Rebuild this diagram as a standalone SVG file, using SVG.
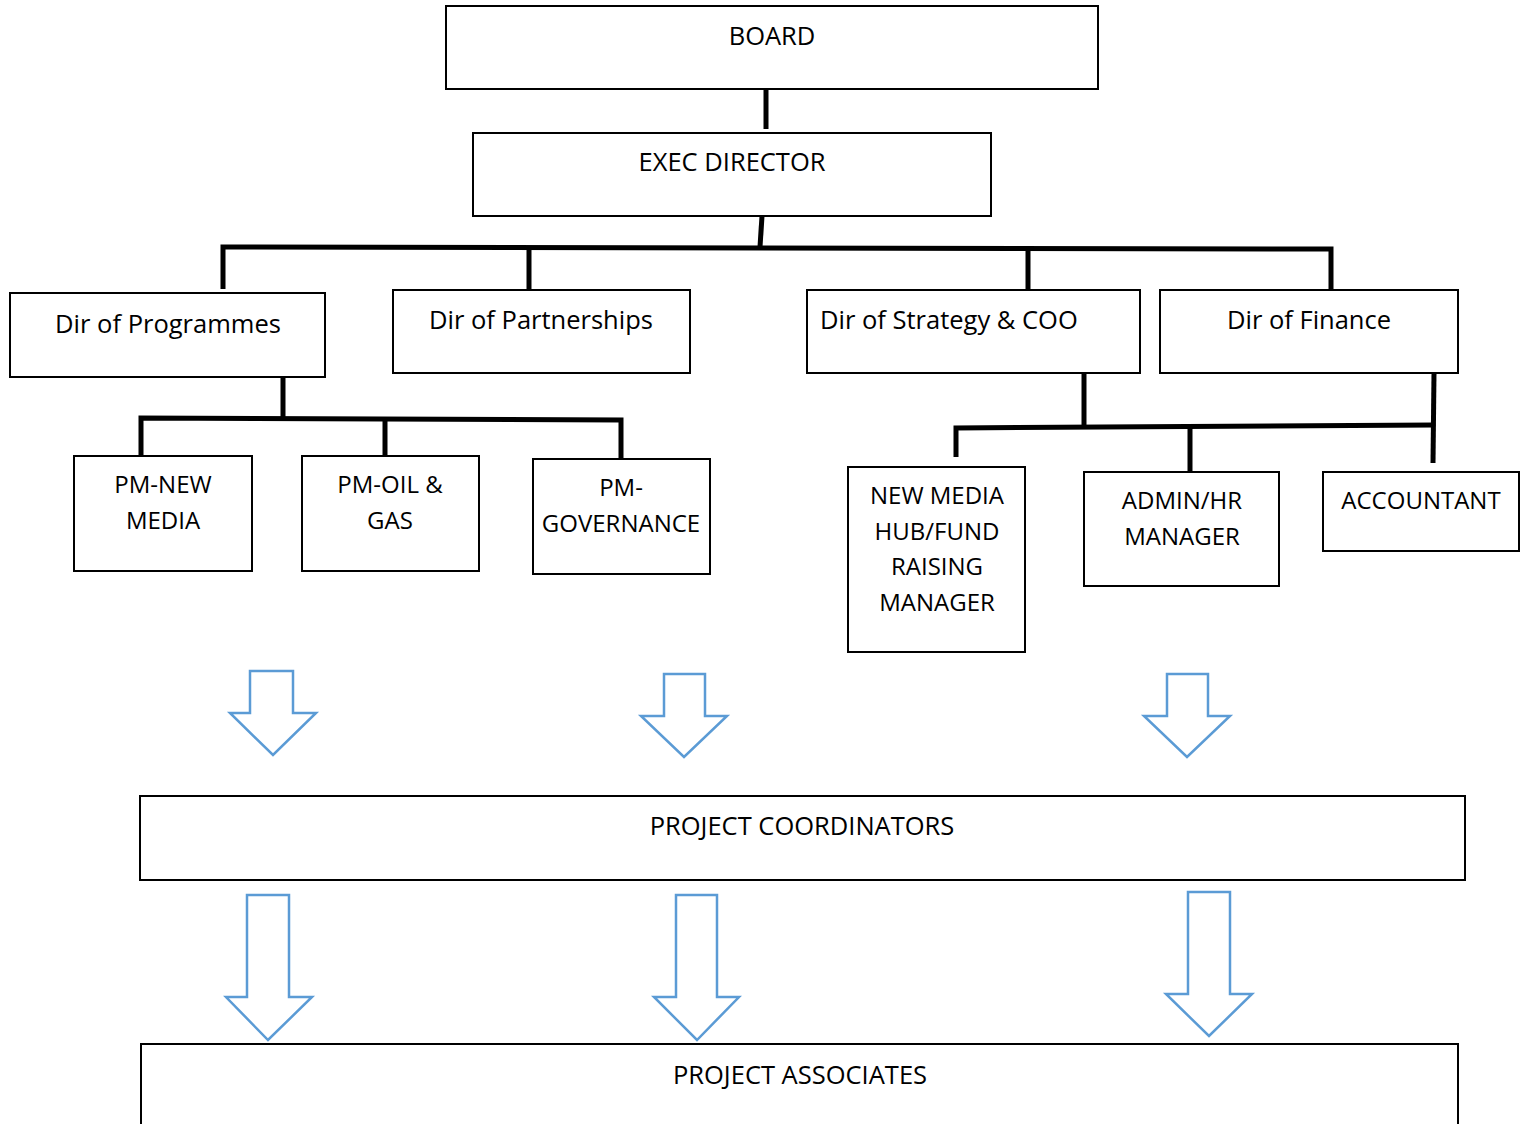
<svg xmlns="http://www.w3.org/2000/svg" width="1525" height="1124" viewBox="0 0 1525 1124">
<style>
.box{fill:#fff;stroke:#000;stroke-width:2}
.t{font-family:"Open Sans","Liberation Sans",sans-serif;font-size:24px;fill:#000}
.m{font-size:25.5px}
.c{text-anchor:middle}
.ln{stroke:#000;stroke-width:5;fill:none;stroke-linecap:butt}
.arr{fill:#fff;stroke:#5B9BD5;stroke-width:2.5;stroke-linejoin:miter}
</style>
<rect width="1525" height="1124" fill="#fff"/>
<g id="connectors">
<line class="ln" x1="766" y1="89" x2="766" y2="129"/>
<line class="ln" x1="762" y1="216" x2="760" y2="247"/>
<path class="ln" d="M223,289 V247 L1331,249 V289"/>
<line class="ln" x1="529" y1="247" x2="529" y2="290"/>
<line class="ln" x1="1028" y1="248" x2="1028" y2="290"/>
<line class="ln" x1="283" y1="374" x2="283" y2="418"/>
<path class="ln" d="M141,456 V418 L621,420 V459"/>
<line class="ln" x1="385" y1="418" x2="385" y2="456"/>
<line class="ln" x1="1084" y1="373" x2="1084" y2="427"/>
<path class="ln" d="M956,457 V428 L1434,425"/>
<line class="ln" x1="1190" y1="427" x2="1190" y2="471"/>
<line class="ln" x1="1434" y1="373" x2="1433" y2="463"/>
</g>
<g id="board"><rect class="box" x="446" y="6" width="652" height="83"/><text class="t m c" x="772" y="45">BOARD</text></g>
<g id="exec"><rect class="box" x="473" y="133" width="518" height="83"/><text class="t m c" x="732" y="171">EXEC DIRECTOR</text></g>
<g id="dir-programmes"><rect class="box" x="10" y="293" width="315" height="84"/><text class="t m c" x="168" y="333">Dir of Programmes</text></g>
<g id="dir-partnerships"><rect class="box" x="393" y="290" width="297" height="83"/><text class="t m c" x="541" y="329">Dir of Partnerships</text></g>
<g id="dir-strategy"><rect class="box" x="807" y="290" width="333" height="83"/><text class="t m" x="820" y="329">Dir of Strategy &amp; COO</text></g>
<g id="dir-finance"><rect class="box" x="1160" y="290" width="298" height="83"/><text class="t m c" x="1309" y="329">Dir of Finance</text></g>
<g id="pm-new-media"><rect class="box" x="74" y="456" width="178" height="115"/><text class="t c" x="163" y="493">PM-NEW</text><text class="t c" x="163" y="529">MEDIA</text></g>
<g id="pm-oil-gas"><rect class="box" x="302" y="456" width="177" height="115"/><text class="t c" x="390" y="493">PM-OIL &amp;</text><text class="t c" x="390" y="529">GAS</text></g>
<g id="pm-governance"><rect class="box" x="533" y="459" width="177" height="115"/><text class="t c" x="621" y="496">PM-</text><text class="t c" x="621" y="532">GOVERNANCE</text></g>
<g id="new-media-hub"><rect class="box" x="848" y="467" width="177" height="185"/><text class="t c" x="937" y="504">NEW MEDIA</text><text class="t c" x="937" y="540">HUB/FUND</text><text class="t c" x="937" y="575">RAISING</text><text class="t c" x="937" y="611">MANAGER</text></g>
<g id="admin-hr"><rect class="box" x="1084" y="472" width="195" height="114"/><text class="t c" x="1182" y="509">ADMIN/HR</text><text class="t c" x="1182" y="545">MANAGER</text></g>
<g id="accountant"><rect class="box" x="1323" y="472" width="196" height="79"/><text class="t c" x="1421" y="509">ACCOUNTANT</text></g>
<g id="arrows">
<path class="arr" d="M250,671 H293 V713 H316 L273,755 L230,713 H250 Z"/>
<path class="arr" d="M664,674 H705 V716 H727 L684,757 L641,716 H664 Z"/>
<path class="arr" d="M1167,674 H1208 V716 H1230 L1187,757 L1144,716 H1167 Z"/>
<path class="arr" d="M247,895 H289 V997 H312 L268,1040 L226,997 H247 Z"/>
<path class="arr" d="M676,895 H717 V997 H739 L697,1040 L654,997 H676 Z"/>
<path class="arr" d="M1188,892 H1230 V994 H1252 L1209,1036 L1166,994 H1188 Z"/>
</g>
<g id="project-coordinators"><rect class="box" x="140" y="796" width="1325" height="84"/><text class="t m c" x="802" y="835">PROJECT COORDINATORS</text></g>
<g id="project-associates"><rect class="box" x="141" y="1044" width="1317" height="90"/><text class="t m c" x="800" y="1084">PROJECT ASSOCIATES</text></g>
</svg>
